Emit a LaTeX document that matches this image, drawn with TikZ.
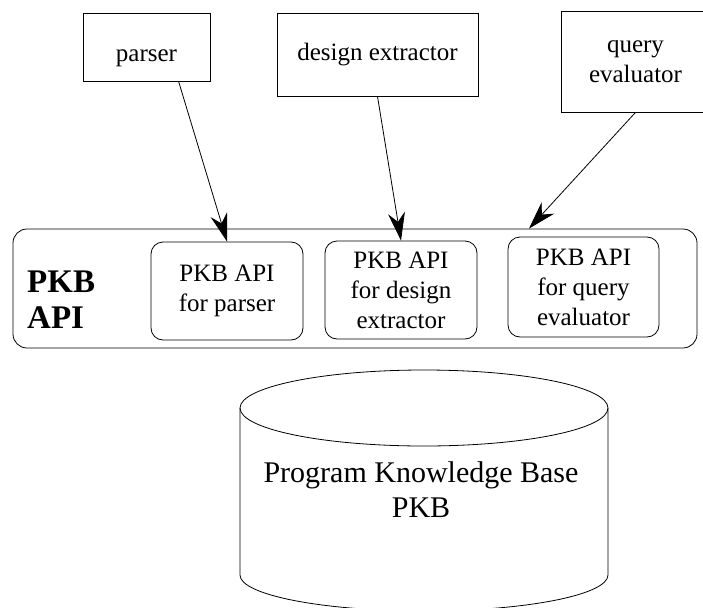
\documentclass[tikz,border=0pt]{standalone}
\usepackage{fontspec}
\setmainfont{Liberation Serif}
\usetikzlibrary{arrows.meta}

\begin{document}
\begin{tikzpicture}[x=1pt,y=-1pt,
    toolbox/.style={draw,line width=0.8pt,align=center,inner sep=0pt,
      font=\fontsize{25}{30}\selectfont},
    apibox/.style={draw,rounded corners=12pt,line width=0.8pt,align=center,inner sep=0pt,
      font=\fontsize{25}{30}\selectfont},
    arr/.style={-{Stealth[length=28pt,width=17pt,inset=9pt]},line width=0.8pt}]
  \useasboundingbox (0,0) rectangle (703,607);

  % tools
  \node[toolbox,minimum width=127pt,minimum height=68pt,text height=30pt,text depth=0pt] (parser) at (146.5,47) {parser};
  \node[toolbox,minimum width=201pt,minimum height=83pt] (design) at (377.5,54.5) {design extractor};
  \node[toolbox,minimum width=149pt,minimum height=101pt] (query) at (635.5,61.5) {query\\evaluator};

  % API layer
  \node[draw,rounded corners=14pt,line width=0.8pt,minimum width=684pt,minimum height=119pt] (api) at (355,288.5) {};
  \node[anchor=west,align=left,inner sep=0pt,font=\bfseries\fontsize{33}{36}\selectfont] (apilabel) at (27,300) {PKB\\API};
  \node[apibox,minimum width=152pt,minimum height=98pt] (apiparser) at (227,291) {PKB API\\for parser};
  \node[apibox,minimum width=152pt,minimum height=98pt] (apidesign) at (401,290) {PKB API\\for design\\extractor};
  \node[apibox,minimum width=151pt,minimum height=100pt] (apiquery) at (583.5,287) {PKB API\\for query\\evaluator};

  % calls into the API
  \draw[arr] (parser.-47) -- (apiparser.north);
  \draw[arr] (design.south) -- (apidesign.north);
  \draw[arr] (query.south) -- (api.19);

  % knowledge base
  \draw[line width=0.8pt] (424,408) ellipse [x radius=184, y radius=38];
  \draw[line width=0.8pt] (240,408) -- (240,575)
    arc [start angle=180, end angle=0, x radius=184, y radius=36] -- (608,408);
  \node[align=center,inner sep=0pt,font=\fontsize{30}{35}\selectfont] (pkb) at (421,489.5) {Program Knowledge Base\\PKB};
\end{tikzpicture}
\end{document}
